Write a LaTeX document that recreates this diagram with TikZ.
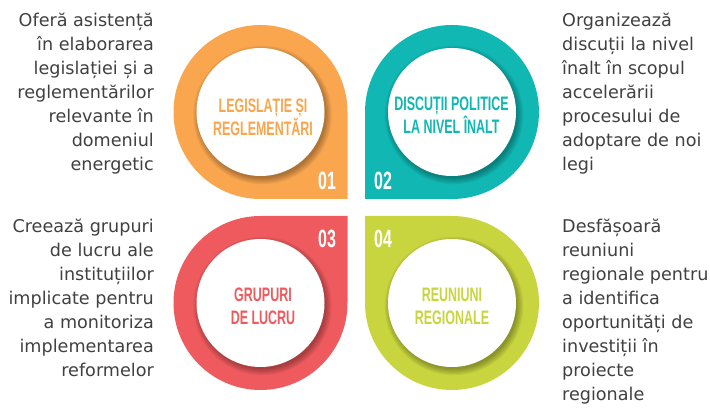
\documentclass[tikz,border=0pt]{standalone}
\usepackage{fontspec}
\setmainfont{DejaVu Sans}
\newfontfamily\headfont{Liberation Sans}[FakeStretch=0.64]
\usetikzlibrary{calc}
\definecolor{legOrange}{HTML}{F9A64F}
\definecolor{discTeal}{HTML}{10B7B3}
\definecolor{grupRed}{HTML}{EF5A5E}
\definecolor{reunGreen}{HTML}{C8D53E}
\definecolor{txtGrey}{HTML}{404040}

\begin{document}
\begin{tikzpicture}
[x=1pt,y=1pt,
  titleDecorate/.style={text=#1,font=\headfont\bfseries\fontsize{19.5}{23}\selectfont,align=center,inner sep=0pt},%
  numDecorate/.style={text=white,font=\headfont\bfseries\fontsize{25}{25}\selectfont,inner sep=0pt},%
  descDecorate/.style={text=txtGrey,font=\fontsize{17.6}{24}\selectfont,inner sep=0pt}]
\useasboundingbox (0,0) rectangle (710,417);
%% drops with white discs
\foreach \nodename/\x/\y/\rot/\col in {
  leg/260.5/305/0/legOrange, disc/452/305/-90/discTeal,
  grup/260.5/114/90/grupRed, reun/452/114/180/reunGreen}
{
  \coordinate (\nodename) at (\x,\y);
  \fill[\col,shift={(\x,\y)},rotate=\rot]
    (0,-87) -- (87,-87) -- (87,0) arc[start angle=0,end angle=270,radius=87] -- cycle;
  \foreach \s in {1,...,6}
    \fill[black,opacity=0.055] ($(\nodename)+(2,-3)$) circle (62+\s*1.2);
  \fill[white] (\nodename) circle (64);
}
%% titles
\node (legTitle) at (263,299.5) [titleDecorate=legOrange] {LEGISLAȚIE ȘI\\REGLEMENTĂRI};
\node (discTitle) at (451.5,302) [titleDecorate=discTeal] {DISCUȚII POLITICE\\LA NIVEL ÎNALT};
\node (grupTitle) at (263,110.5) [titleDecorate=grupRed] {GRUPURI\\DE LUCRU};
\node (reunTitle) at (452,110.5) [titleDecorate=reunGreen] {REUNIUNI\\REGIONALE};
%% numbers
\foreach \nodename/\x/\y/\txt in {
  legNum/327/236/01, discNum/383/236/02, grupNum/327/178/03, reunNum/383/178/04}
{
  \node (\nodename) at (\x,\y) [numDecorate] {\txt};
}
%% descriptions
\node (legDesc) at (154,403.7) [descDecorate,anchor=north east,align=right]
  {Oferă asistență\\în elaborarea\\legislației și a\\reglementărilor\\relevante în\\domeniul\\energetic};
\node (discDesc) at (562,403.7) [descDecorate,anchor=north west,align=left]
  {Organizează\\discuții la nivel\\înalt în scopul\\accelerării\\procesului de\\adoptare de noi\\legi};
\node (grupDesc) at (154,198.5) [descDecorate,anchor=north east,align=right]
  {Creează grupuri\\de lucru ale\\instituțiilor\\implicate pentru\\a monitoriza\\implementarea\\reformelor};
\node (reunDesc) at (562,198.5) [descDecorate,anchor=north west,align=left]
  {Desfășoară\\reuniuni\\regionale pentru\\a identifica\\oportunități de\\investiții în\\proiecte\\regionale};
\end{tikzpicture}
\end{document}
